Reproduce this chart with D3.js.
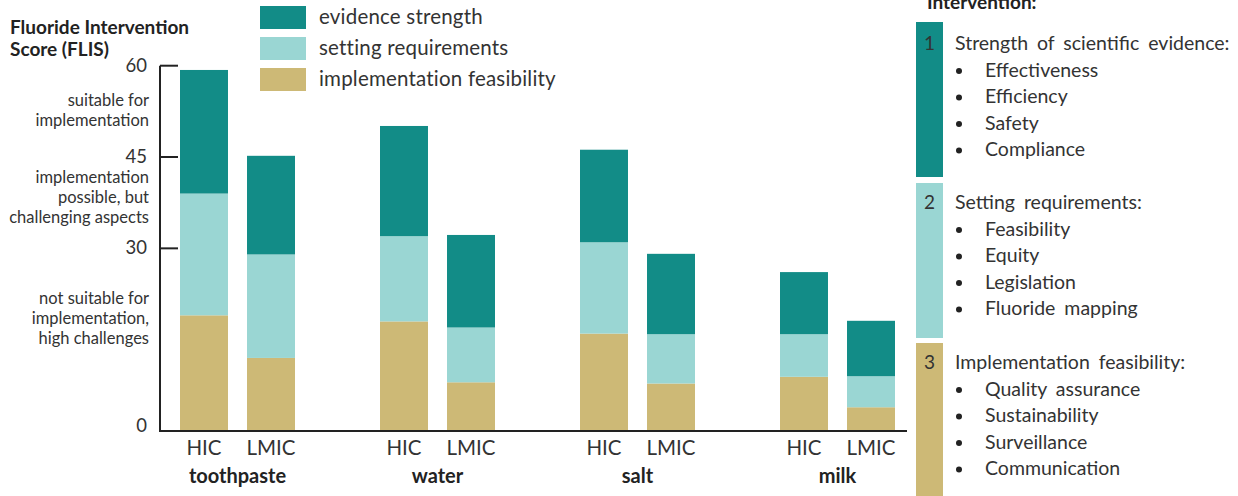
<!DOCTYPE html>
<html>
<head>
<meta charset="utf-8">
<script src="https://cdn.jsdelivr.net/npm/d3@7"></script>
<style>
  body { margin: 0; background: #fff; }
  svg text { font-family: Lato, "Open Sans", sans-serif; }
</style>
</head>
<body>
<svg id="chart"></svg>
<script>
var width = 1238, height = 496;

// data
var products = ["toothpaste", "water", "salt", "milk"];
var incomes = ["HIC", "LMIC"];
var seriesNames = ["implementation feasibility", "setting requirements", "evidence strength"];
var feasibility = [19, 12, 18, 8, 16, 7.8, 8.9, 3.9];
var setting = [20, 17, 14, 9, 15, 8.1, 7, 5.1];
var evidence = [20.3, 16.2, 18.1, 15.2, 15.2, 13.2, 10.2, 9.1];
var yTicks = [0, 30, 45, 60];
var colors = ["#cdb976", "#9ad6d3", "#128c87"];

var bands = [
  { at: 60, lines: ["suitable for", "implementation"] },
  { at: 45, lines: ["implementation", "possible, but", "challenging aspects"] },
  { at: 30, lines: ["not suitable for", "implementation,", "high challenges"] }
];

var panel = [
  { num: "1", head: "Strength of scientific evidence:", items: ["Effectiveness", "Efficiency", "Safety", "Compliance"] },
  { num: "2", head: "Setting requirements:", items: ["Feasibility", "Equity", "Legislation", "Fluoride mapping"] },
  { num: "3", head: "Implementation feasibility:", items: ["Quality assurance", "Sustainability", "Surveillance", "Communication"] }
];

// build table for the stack
var rows = [];
products.forEach(function (p, i) {
  incomes.forEach(function (inc, j) {
    var k = i * 2 + j;
    rows.push({ product: p, income: inc,
      "implementation feasibility": feasibility[k],
      "setting requirements": setting[k],
      "evidence strength": evidence[k] });
  });
});

var svg = d3.select("#chart").attr("width", width).attr("height", height);

var y = d3.scaleLinear().domain([0, 60]).range([431, 65.7]);
var x0 = d3.scaleBand().domain(products).range([180, 980]);
var x1 = d3.scaleBand().domain(incomes).range([0, 115]).paddingInner(0.284);

var stack = d3.stack().keys(seriesNames)(rows);

var g = svg.append("g");
g.selectAll("g.layer")
  .data(stack)
  .enter().append("g")
  .attr("class", "layer")
  .attr("fill", function (d, i) { return colors[i]; })
  .selectAll("rect")
  .data(function (d) { return d; })
  .enter().append("rect")
  .attr("x", function (d) { return x0(d.data.product) + x1(d.data.income); })
  .attr("y", function (d) { return y(d[1]); })
  .attr("width", x1.bandwidth())
  .attr("height", function (d) { return y(d[0]) - y(d[1]); });

// axes
svg.append("line")
  .attr("x1", 160).attr("x2", 160)
  .attr("y1", y(60)).attr("y2", y(0) + 1)
  .attr("stroke", "#222").attr("stroke-width", 2);
svg.append("line")
  .attr("x1", 159).attr("x2", 907)
  .attr("y1", y(0)).attr("y2", y(0))
  .attr("stroke", "#222").attr("stroke-width", 2);

svg.selectAll("line.tick")
  .data(yTicks.filter(function (t) { return t > 0; }))
  .enter().append("line")
  .attr("class", "tick")
  .attr("x1", 160).attr("x2", 178)
  .attr("y1", function (d) { return y(d); })
  .attr("y2", function (d) { return y(d); })
  .attr("stroke", "#222").attr("stroke-width", 2);

svg.selectAll("text.ytick")
  .data(yTicks)
  .enter().append("text")
  .attr("class", "ytick")
  .attr("x", 147)
  .attr("y", function (d) { return d == 0 ? y(d) + 1 : y(d) + 6; })
  .attr("text-anchor", "end")
  .attr("font-size", 18.5)
  .attr("fill", "#333")
  .text(function (d) { return d; });

// band notes on the axis
bands.forEach(function (b) {
  var top = b.at == 60 ? 106 : (b.at == 45 ? 183 : 304);
  b.lines.forEach(function (l, i) {
    svg.append("text")
      .attr("x", 149)
      .attr("y", top + i * 20.2)
      .attr("text-anchor", "end")
      .attr("font-size", 16.5)
      .attr("fill", "#333")
      .text(l);
  });
});

// axis title
svg.append("text").attr("x", 10).attr("y", 34)
  .attr("font-size", 19).attr("font-weight", "bold").attr("fill", "#222")
  .text("Fluoride Intervention");
svg.append("text").attr("x", 10).attr("y", 56)
  .attr("font-size", 19).attr("font-weight", "bold").attr("fill", "#222")
  .text("Score (FLIS)");

// x labels
rows.forEach(function (r) {
  svg.append("text")
    .attr("x", x0(r.product) + x1(r.income) + x1.bandwidth() / 2)
    .attr("y", 455)
    .attr("text-anchor", "middle")
    .attr("font-size", 20.5)
    .attr("fill", "#333")
    .text(r.income);
});
svg.selectAll("text.prod")
  .data(products)
  .enter().append("text")
  .attr("class", "prod")
  .attr("x", function (d) { return x0(d) + 115 / 2; })
  .attr("y", 483)
  .attr("text-anchor", "middle")
  .attr("font-size", 20)
  .attr("font-weight", "bold")
  .attr("fill", "#222")
  .text(function (d) { return d; });

// legend
var legend = svg.selectAll("g.legend")
  .data(seriesNames.slice().reverse())
  .enter().append("g")
  .attr("class", "legend")
  .attr("transform", function (d, i) { return "translate(260," + (6 + i * 31) + ")"; });
legend.append("rect")
  .attr("width", 46).attr("height", 23)
  .attr("fill", function (d, i) { return colors[2 - i]; });
legend.append("text")
  .attr("x", 59).attr("y", 18)
  .attr("font-size", 20.5)
  .attr("letter-spacing", 0.2)
  .attr("fill", "#333")
  .text(function (d) { return d; });

// right panel
svg.append("text").attr("x", 927).attr("y", 9)
  .attr("font-size", 19).attr("font-weight", "bold").attr("fill", "#222")
  .text("Intervention:");

var blockTop = [22, 183, 343], blockBot = [177, 338, 500];
panel.forEach(function (p, i) {
  svg.append("rect")
    .attr("x", 916).attr("y", blockTop[i])
    .attr("width", 27).attr("height", blockBot[i] - blockTop[i])
    .attr("fill", colors[2 - i]);
  var base = [50, 209, 369][i];
  svg.append("text").attr("x", 929.5).attr("y", base)
    .attr("text-anchor", "middle").attr("font-size", 19).attr("fill", "#333")
    .text(p.num);
  svg.append("text").attr("x", 955).attr("y", base)
    .attr("font-size", 19.5).attr("word-spacing", 4).attr("fill", "#333")
    .text(p.head);
  p.items.forEach(function (it, j) {
    var yy = base + 26.5 * (j + 1);
    svg.append("circle").attr("cx", 959).attr("cy", yy - 5.5).attr("r", 3)
      .attr("fill", "#222");
    svg.append("text").attr("x", 985).attr("y", yy)
      .attr("font-size", 19.5).attr("word-spacing", 4).attr("fill", "#333")
      .text(it);
  });
});
</script>
</body>
</html>
